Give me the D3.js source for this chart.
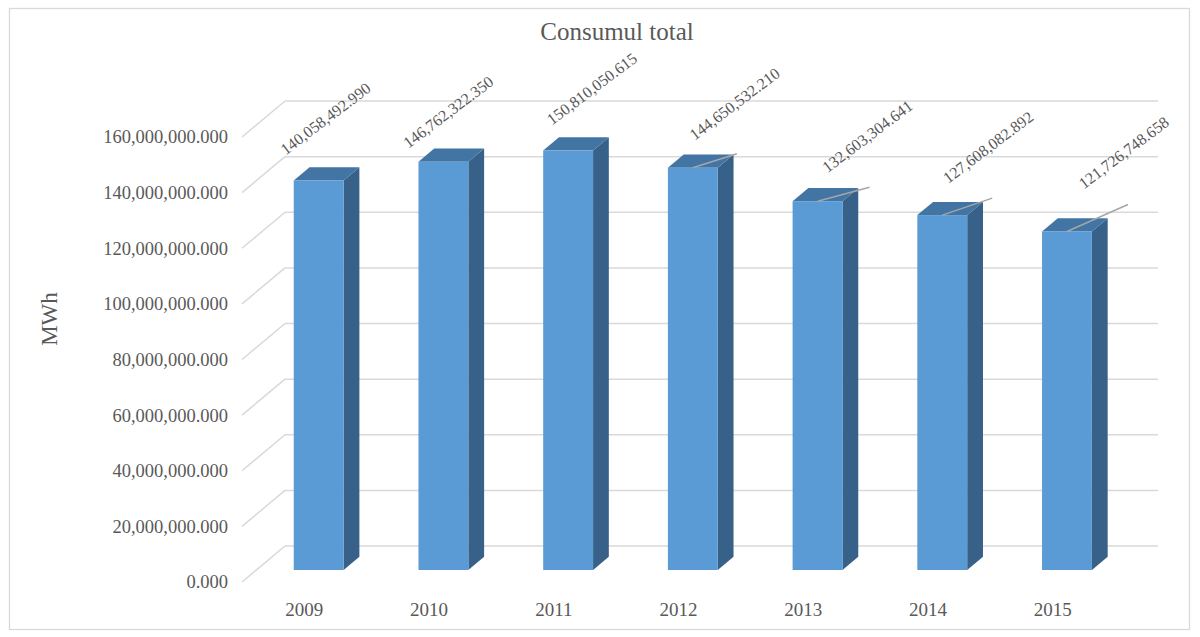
<!DOCTYPE html>
<html>
<head>
<meta charset="utf-8">
<script src="https://cdn.jsdelivr.net/npm/d3@7"></script>
<style>
  html, body { margin: 0; padding: 0; background: #fff; }
  svg { display: block; }
  text { font-family: "Liberation Serif", "Times New Roman", serif; fill: #595959; }
</style>
</head>
<body>
<script>
// ---- data ----
const years = ["2009", "2010", "2011", "2012", "2013", "2014", "2015"];
const consumption = [140058492.990, 146762322.350, 150810050.615, 144650532.210, 132603304.641, 127608082.892, 121726748.658];
const valueLabels = ["140,058,492.990", "146,762,322.350", "150,810,050.615", "144,650,532.210", "132,603,304.641", "127,608,082.892", "121,726,748.658"];
const tickValues = [0, 20000000, 40000000, 60000000, 80000000, 100000000, 120000000, 140000000, 160000000];
const tickLabels = ["0.000", "20,000,000.000", "40,000,000.000", "60,000,000.000", "80,000,000.000", "100,000,000.000", "120,000,000.000", "140,000,000.000", "160,000,000.000"];
const title = "Consumul total";
const yTitle = "MWh";

// ---- layout (label placement relative to bar top, leader line ends) ----
const labelOffsets = [[-33, -25], [-35, -13], [-16, -25], [2, -27], [10, -28], [6, -31], [17, -42]];
const leaderEnds = [null, null, null, [44, -14], [52, -14], [50, -17], [61, -27]];

const W = 1200, H = 637;
const svg = d3.select("body").append("svg").attr("width", W).attr("height", H);

// outer border
svg.append("rect").attr("x", 9.5).attr("y", 8.5).attr("width", 1180).attr("height", 621)
  .attr("fill", "#fff").attr("stroke", "#d9d9d9").attr("stroke-width", 1.3);

// 3D geometry
const DX = 43, DY = 36;          // full floor depth offset (front -> back)
const frontX0 = 242, frontX1 = 1115;
const y = d3.scaleLinear().domain([0, 160000000]).range([546, 101]); // back wall
const x = d3.scaleBand().domain(years).range([frontX0, frontX1]).paddingInner(0.6).paddingOuter(0.3);

const tFront = 1 / 3, tBack = 0.70;
const pos = (px, vy, t) => [px + DX * t, vy + DY * (1 - t)]; // px on front floor, vy on back wall

// gridlines
const grid = svg.append("g");
tickValues.forEach(v => {
  const yb = y(v);
  grid.append("line").attr("x1", frontX0).attr("y1", yb + DY).attr("x2", frontX0 + DX).attr("y2", yb)
    .attr("stroke", "#d9d9d9").attr("stroke-width", 1.5);
  grid.append("line").attr("x1", frontX0 + DX).attr("y1", yb).attr("x2", frontX1 + DX).attr("y2", yb)
    .attr("stroke", "#d9d9d9").attr("stroke-width", 1.5);
});

// y tick labels
const yAxisG = svg.append("g");
tickValues.forEach((v, i) => {
  yAxisG.append("text").attr("x", 228).attr("y", y(v) + DY).attr("dy", "0.35em")
    .attr("text-anchor", "end").style("font-size", "18.5px").text(tickLabels[i]);
});

// bars
const bw = x.bandwidth();
const barsG = svg.append("g");
years.forEach((yr, i) => {
  const v = consumption[i];
  const [fx, fyTop] = pos(x(yr), y(v), tFront);
  const [, fy0] = pos(x(yr), y(0), tFront);
  const ddx = DX * (tBack - tFront), ddy = DY * (tBack - tFront);
  // side
  barsG.append("polygon")
    .attr("points", [[fx + bw, fyTop], [fx + bw + ddx, fyTop - ddy], [fx + bw + ddx, fy0 - ddy], [fx + bw, fy0]].join(" "))
    .attr("fill", "#376189");
  // top
  barsG.append("polygon")
    .attr("points", [[fx, fyTop], [fx + ddx, fyTop - ddy], [fx + bw + ddx, fyTop - ddy], [fx + bw, fyTop]].join(" "))
    .attr("fill", "#4275a3");
  // front
  barsG.append("rect").attr("x", fx).attr("y", fyTop).attr("width", bw).attr("height", fy0 - fyTop)
    .attr("fill", "#5b9bd5");
});

// leader lines and labels
const labG = svg.append("g");
years.forEach((yr, i) => {
  const [fx, fyTop] = pos(x(yr), y(consumption[i]), tFront);
  const cx = fx + bw / 2;
  if (leaderEnds[i]) {
    labG.append("line").attr("x1", cx).attr("y1", fyTop)
      .attr("x2", cx + leaderEnds[i][0]).attr("y2", fyTop + leaderEnds[i][1])
      .attr("stroke", "#a6a6a6").attr("stroke-width", 1.5);
  }
  const lx = cx + labelOffsets[i][0], ly = fyTop + labelOffsets[i][1];
  labG.append("text").attr("transform", `translate(${lx},${ly}) rotate(-37)`)
    .style("font-size", "16px").text(valueLabels[i]);
});

// x labels
const xG = svg.append("g");
years.forEach(yr => {
  xG.append("text").attr("x", x(yr) + bw / 2).attr("y", 616).attr("text-anchor", "middle")
    .style("font-size", "19px").text(yr);
});

// title
svg.append("text").attr("x", 617).attr("y", 40).attr("text-anchor", "middle")
  .style("font-size", "25px").text(title);

// y axis title
svg.append("text").attr("transform", "translate(57,319) rotate(-90)").attr("text-anchor", "middle")
  .style("font-size", "23px").text(yTitle);
</script>
</body>
</html>
